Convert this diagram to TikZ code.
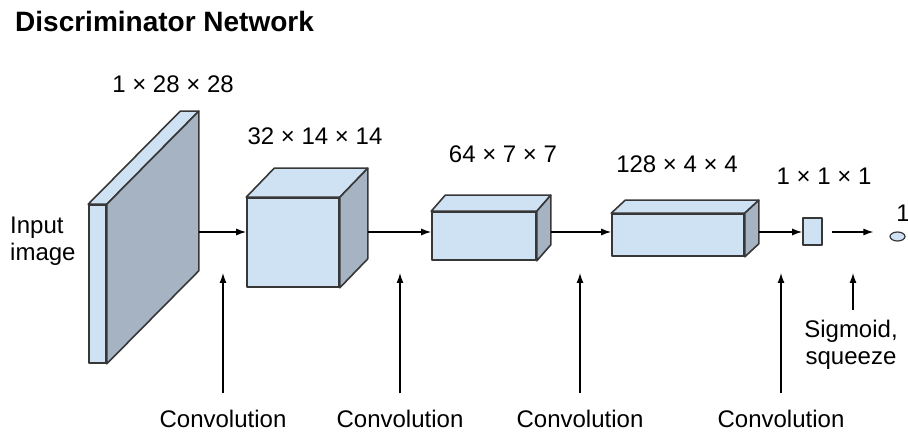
\documentclass[tikz,border=0pt]{standalone}
\usepackage{fontspec}
\setmainfont{Liberation Sans}
\usepackage{xcolor}
\usetikzlibrary{arrows.meta,shapes.geometric}

\definecolor{facefill}{RGB}{207,226,243}
\definecolor{sidefill}{RGB}{165,179,194}
\definecolor{edgegray}{RGB}{55,55,55}

\begin{document}
\begin{tikzpicture}[x=1pt, y=-1pt,
  face/.style={draw=edgegray, line width=1.6pt, fill=facefill, line join=round, inner sep=0pt},
  side/.style={draw=edgegray, line width=1.6pt, fill=sidefill, line join=round},
  lbl/.style={font=\fontsize{24}{27}\selectfont, inner sep=2pt},
  arr/.style={-{Latex[length=10pt,width=7pt]}, line width=1.3pt, draw=black}
]
  \useasboundingbox (0,0) rectangle (908,435);

  % Title
  \node[anchor=base west, inner sep=0pt, font=\fontsize{28}{32}\selectfont\bfseries] (title) at (15,32) {Discriminator Network};

  % Front faces of the layers
  \node[face, minimum width=17pt, minimum height=158pt] (inp) at (97.5,284) {};
  \node[face, minimum width=92pt, minimum height=89pt]  (l1)  at (293,242.5) {};
  \node[face, minimum width=104pt, minimum height=48pt] (l2)  at (484,236) {};
  \node[face, minimum width=132pt, minimum height=42pt] (l3)  at (678,235) {};
  \node[face, minimum width=19pt, minimum height=27pt]  (l4)  at (812.5,231.5) {};
  \node[face, ellipse, line width=1.2pt, minimum width=15pt, minimum height=9pt] (out) at (897.5,236.5) {};

  % Top and side faces
  \foreach \n/\dx/\dy in {inp/92/-93, l1/28/-29, l2/14/-16, l3/14/-13} {
    \draw[face] (\n.north west) -- ([shift={(\dx,\dy)}]\n.north west)
      -- ([shift={(\dx,\dy)}]\n.north east) -- (\n.north east) -- cycle;
    \draw[side] (\n.north east) -- ([shift={(\dx,\dy)}]\n.north east)
      -- ([shift={(\dx,\dy)}]\n.south east) -- (\n.south east) -- cycle;
    \coordinate (\n-back) at ([shift={(\dx,\dy)}]\n.east);
  }

  % Sizes
  \node[lbl, anchor=base] (s0) at (173,93)  {1 × 28 × 28};
  \node[lbl, anchor=base] (s1) at (315,145) {32 × 14 × 14};
  \node[lbl, anchor=base] (s2) at (503,163) {64 × 7 × 7};
  \node[lbl, anchor=base] (s3) at (677,173) {128 × 4 × 4};
  \node[lbl, anchor=base] (s4) at (824,185) {1 × 1 × 1};
  \node[lbl, anchor=base] (s5) at (903,222) {1};
  \node[lbl, anchor=north west, align=left] (inlbl) at (8,215) {Input\\image};

  % Data flow
  \coordinate (row) at (0,232);
  \draw[arr] (inp-back |- row) -- (l1.west |- row);
  \draw[arr] (l1-back |- row) -- (l2.west |- row);
  \draw[arr] (l2-back |- row) -- (l3.west |- row);
  \draw[arr] (l3-back |- row) -- (l4.west |- row);
  \draw[arr, shorten <=9pt, shorten >=16pt] (l4.east |- row) -- (out.west |- row);

  % Operations
  \coordinate (tip) at (0,273);
  \foreach \x/\n in {223/1, 400/2, 580/3, 781/4} {
    \node[lbl, anchor=base] (conv\n) at (\x,428) {Convolution};
    \draw[arr, shorten <=15pt] (conv\n.north) -- (conv\n.north |- tip);
  }
  \node[lbl, anchor=north, align=center] (sig) at (851,318) {Sigmoid,\\squeeze};
  \draw[arr, shorten <=8pt] ([xshift=2pt]sig.north) -- ([xshift=2pt]sig.north |- tip);
\end{tikzpicture}
\end{document}
